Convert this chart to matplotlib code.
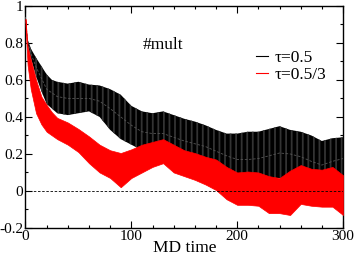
import matplotlib
matplotlib.use("Agg")
import matplotlib.pyplot as plt
from matplotlib.lines import Line2D
from matplotlib.ticker import MultipleLocator

# MD time samples
md_time = [0, 2, 5, 10, 15, 20, 25, 30, 40, 50, 60, 70, 80, 90, 100, 110, 120,
           130, 140, 150, 160, 170, 180, 190, 200, 210, 220, 230, 240, 250,
           260, 270, 280, 290, 300]

# tau = 0.5 band (black)
black_upper = [0.95, 0.82, 0.77, 0.72, 0.675, 0.63, 0.60, 0.59, 0.58, 0.59,
               0.575, 0.57, 0.55, 0.52, 0.46, 0.43, 0.42, 0.43, 0.41, 0.39,
               0.375, 0.355, 0.33, 0.31, 0.31, 0.32, 0.32, 0.335, 0.35, 0.33,
               0.32, 0.30, 0.27, 0.285, 0.29]
black_lower = [0.93, 0.79, 0.72, 0.62, 0.54, 0.47, 0.445, 0.42, 0.41, 0.42,
               0.43, 0.40, 0.33, 0.28, 0.25, 0.22, 0.20, 0.19, 0.17, 0.15,
               0.14, 0.125, 0.10, 0.07, 0.04, 0.04, 0.05, 0.07, 0.07, 0.05,
               0.05, 0.04, 0.03, 0.06, 0.08]
black_mid = [0.94, 0.805, 0.745, 0.67, 0.61, 0.55, 0.53, 0.51, 0.50, 0.50,
             0.50, 0.485, 0.445, 0.40, 0.355, 0.32, 0.31, 0.31, 0.29, 0.27,
             0.255, 0.24, 0.215, 0.19, 0.17, 0.17, 0.175, 0.19, 0.205, 0.20,
             0.185, 0.16, 0.14, 0.16, 0.175]

# tau = 0.5/3 band (red)
red_upper = [0.93, 0.78, 0.71, 0.60, 0.51, 0.465, 0.425, 0.395, 0.37, 0.335,
             0.295, 0.25, 0.22, 0.205, 0.225, 0.25, 0.265, 0.28, 0.25, 0.22,
             0.205, 0.185, 0.17, 0.13, 0.10, 0.105, 0.10, 0.08, 0.07, 0.11,
             0.14, 0.12, 0.115, 0.13, 0.085]
red_lower = [0.90, 0.68, 0.55, 0.42, 0.36, 0.32, 0.30, 0.28, 0.25, 0.21,
             0.15, 0.10, 0.07, 0.02, 0.07, 0.10, 0.13, 0.15, 0.10, 0.08,
             0.06, 0.035, 0.005, -0.045, -0.075, -0.075, -0.08, -0.12, -0.12,
             -0.13, -0.07, -0.08, -0.085, -0.085, -0.13]

labels = [u"\u03c4=0.5", u"\u03c4=0.5/3"]

plt.rcParams['font.family'] = ['Liberation Serif', 'DejaVu Serif']
plt.rcParams['hatch.color'] = '#333333'
plt.rcParams['hatch.linewidth'] = 1.3

fig = plt.figure(figsize=(3.54, 2.57), dpi=100)
ax = fig.add_axes([0.072, 0.113, 0.897, 0.864])

# black band with vertical stripes
ax.fill_between(md_time, black_lower, black_upper, facecolor='black',
                edgecolor='none', hatch='|||', linewidth=0, zorder=2)
ax.plot(md_time, black_mid, color='#555555', lw=0.6, ls=(0, (3, 2)), zorder=3)

# red band on top
ax.fill_between(md_time, red_lower, red_upper, facecolor='red',
                edgecolor='red', linewidth=0.5, zorder=4)

ax.axhline(0, color='black', lw=0.6, ls=(0, (3, 2)), zorder=5)

ax.set_xlim(0, 300)
ax.set_ylim(-0.2, 1.0)
ax.xaxis.set_major_locator(MultipleLocator(100))
ax.xaxis.set_minor_locator(MultipleLocator(20))
ax.yaxis.set_minor_locator(MultipleLocator(0.1))
ax.set_yticks([-0.2, 0, 0.2, 0.4, 0.6, 0.8, 1.0])
ax.set_yticklabels(['-0.2', '0', '0.2', '0.4', '0.6', '0.8', '1'])
ax.tick_params(which='both', direction='in', top=True, right=True,
               labelsize=11, pad=1.5, width=0.8)
ax.tick_params(which='major', length=5)
ax.tick_params(which='minor', length=2.5)
for s in ax.spines.values():
    s.set_linewidth(1.0)

ax.set_xlabel('MD time', fontsize=12.5, labelpad=-2)

ax.text(0.37, 0.824, '#mult', transform=ax.transAxes, fontsize=12.5,
        va='center', ha='left')

handles = [Line2D([], [], color='black', lw=0.8),
           Line2D([], [], color='red', lw=0.8)]
ax.legend(handles, labels, loc='upper left', bbox_to_anchor=(0.725, 0.80),
          frameon=False, handlelength=0.7, handletextpad=0.4,
          labelspacing=0.05, borderpad=0, borderaxespad=0, fontsize=12.5)

plt.savefig('out.png', dpi=100)
